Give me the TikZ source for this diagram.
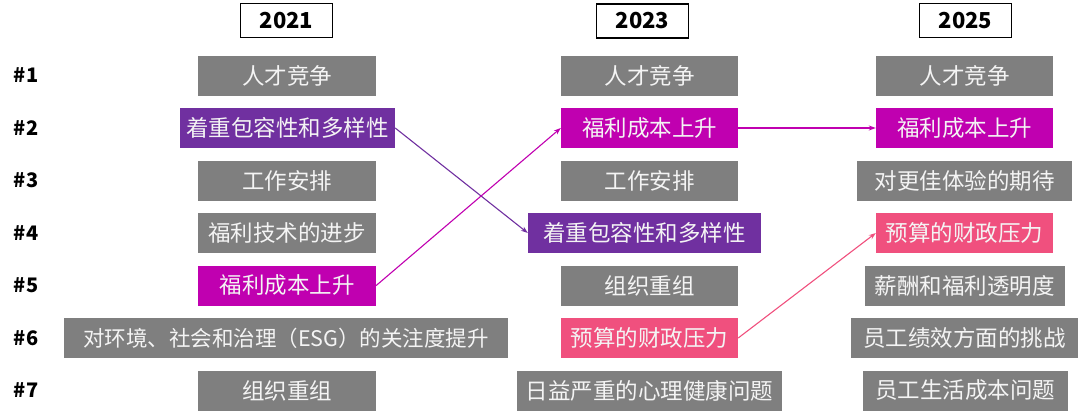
\documentclass[tikz,border=0pt]{standalone}
\usepackage{fontspec}
\setmainfont{Noto Sans CJK SC}
\usetikzlibrary{arrows.meta}
\definecolor{cgray}{HTML}{7F7F7F}
\definecolor{cpurple}{HTML}{7030A0}
\definecolor{cmag}{HTML}{C000B0}
\definecolor{cpink}{HTML}{F0507E}
\definecolor{ctext}{HTML}{F4F4F4}
\tikzset{
  cell/.style={fill=cgray, text=ctext, minimum height=40, inner sep=0pt,
    font=\fontsize{22.5}{23}\selectfont},
  pcell/.style={cell, fill=cpurple},
  mcell/.style={cell, fill=cmag},
  kcell/.style={cell, fill=cpink},
  yearbox/.style={draw=black, line width=1.6pt, minimum width=92, minimum height=34,
    inner sep=0pt, font=\fontsize{22}{22}\selectfont\bfseries},
  rowlab/.style={font=\fontsize{20}{20}\selectfont\bfseries, inner sep=0pt},
  link/.style={line width=1.1pt, -{Stealth[length=7pt,width=5pt]}},
}
\begin{document}
\begin{tikzpicture}[x=1pt,y=-1pt]
\useasboundingbox (0,0) rectangle (1080,418);
% headers
\node[yearbox] (h1) at (286.5,20.5) {2021};
\node[yearbox] (h2) at (642.5,21) {2023};
\node[yearbox] (h3) at (965.5,20.5) {2025};
% row labels
\node[rowlab] (r1) at (26,75.5) {\#1};
\node[rowlab] (r2) at (26,128) {\#2};
\node[rowlab] (r3) at (26,180.5) {\#3};
\node[rowlab] (r4) at (26,233) {\#4};
\node[rowlab] (r5) at (26,285.5) {\#5};
\node[rowlab] (r6) at (26,338) {\#6};
\node[rowlab] (r7) at (26,390.5) {\#7};
% column 2021
\node[cell, minimum width=178] (a1) at (287,75.5) {人才竞争};
\node[pcell, minimum width=215] (a2) at (287.5,128) {着重包容性和多样性};
\node[cell, minimum width=178] (a3) at (287,180.5) {工作安排};
\node[cell, minimum width=178] (a4) at (287,233) {福利技术的进步};
\node[mcell, minimum width=178] (a5) at (287,285.5) {福利成本上升};
\node[cell, minimum width=444, font=\fontsize{21.5}{22}\selectfont] (a6) at (286,338) {对环境、社会和治理（ESG）的关注度提升};
\node[cell, minimum width=178] (a7) at (287,390.5) {组织重组};
% column 2023
\node[cell, minimum width=177] (b1) at (649.5,75.5) {人才竞争};
\node[mcell, minimum width=177] (b2) at (649.5,128) {福利成本上升};
\node[cell, minimum width=177] (b3) at (649.5,180.5) {工作安排};
\node[pcell, minimum width=233] (b4) at (644.5,233) {着重包容性和多样性};
\node[cell, minimum width=177] (b5) at (649.5,285.5) {组织重组};
\node[kcell, minimum width=177] (b6) at (649.5,338) {预算的财政压力};
\node[cell, minimum width=265] (b7) at (649.5,390.5) {日益严重的心理健康问题};
% column 2025
\node[cell, minimum width=177] (c1) at (964.5,75.5) {人才竞争};
\node[mcell, minimum width=177] (c2) at (964.5,128) {福利成本上升};
\node[cell, minimum width=215] (c3) at (964.5,180.5) {对更佳体验的期待};
\node[kcell, minimum width=177] (c4) at (964.5,233) {预算的财政压力};
\node[cell, minimum width=200] (c5) at (964.5,285.5) {薪酬和福利透明度};
\node[cell, minimum width=227] (c6) at (964.5,338) {员工绩效方面的挑战};
\node[cell, minimum width=205] (c7) at (965,390.5) {员工生活成本问题};
% connectors
\draw[link, cpurple] (a2.east) -- (b4.west);
\draw[link, cmag] (a5.east) -- (b2.west);
\draw[link, cmag] (b2.east) -- (c2.west);
\draw[link, cpink] (b6.east) -- (c4.west);
\end{tikzpicture}
\end{document}
